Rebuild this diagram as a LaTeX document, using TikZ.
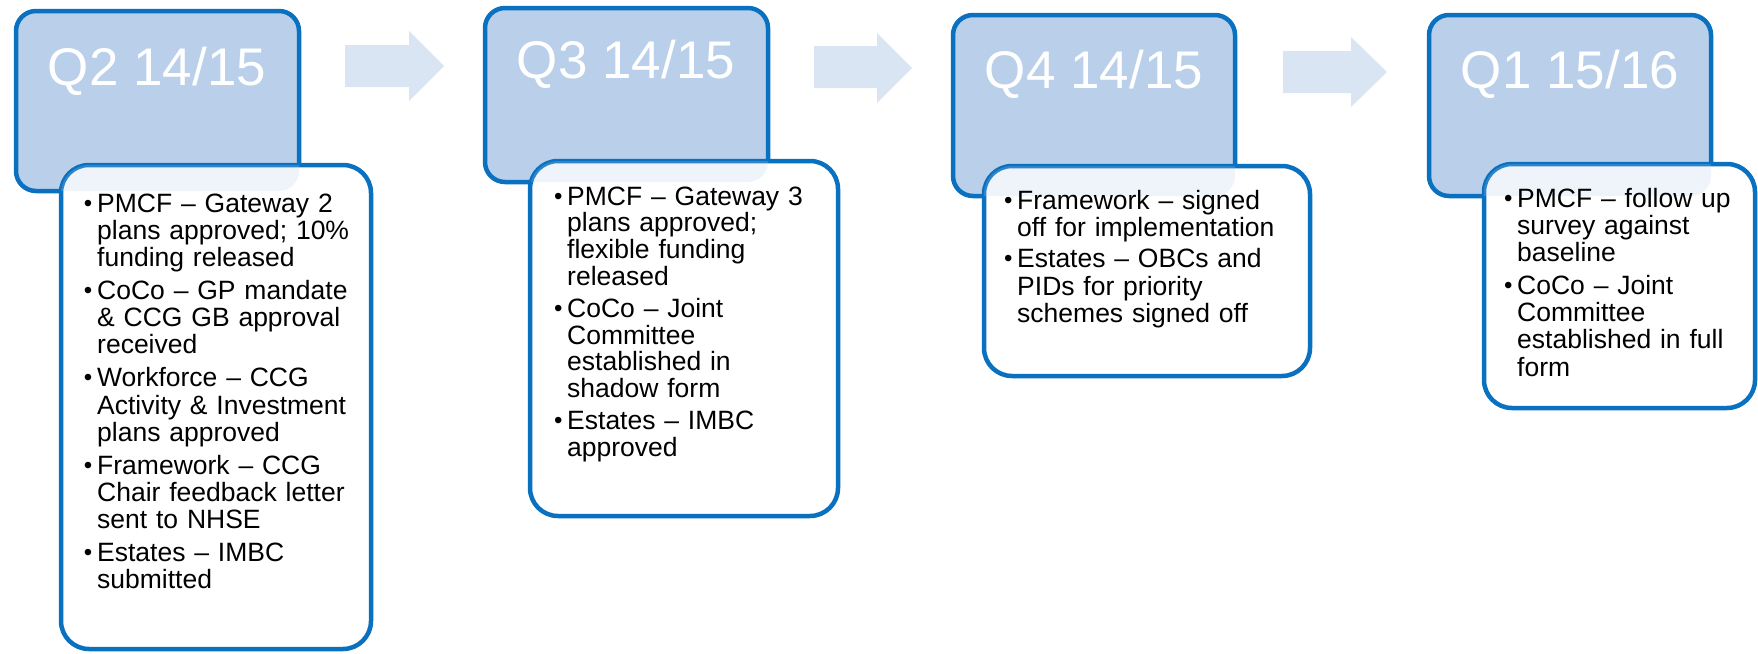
\documentclass[tikz,border=0pt]{standalone}
\usepackage{fontspec}
\setmainfont{Liberation Sans}
\definecolor{frame}{RGB}{10,112,192}
\definecolor{hdrfill}{RGB}{185,207,234}
\definecolor{arrowfill}{RGB}{218,229,243}
% hanging bullet set to the left of the current line
\newcommand\bul{\leavevmode\llap{{\fontsize{24pt}{24pt}\selectfont\raisebox{1pt}{•}}\hspace{4.8pt}}}
\newcommand\itemgap{\\[5.8pt]}
\tikzset{
  hdr/.style={draw=frame, line width=4.5pt, fill=hdrfill, rounded corners=20pt, inner sep=0pt, outer sep=0pt},
  bodybox/.style={draw=frame, line width=4.5pt, fill=white, rounded corners=28pt, inner sep=0pt, outer sep=0pt},
  ttl/.style={text=white, font=\fontsize{53pt}{60pt}\selectfont, inner sep=0pt, anchor=base},
  txt/.style={text=black, font=\fontsize{26.5pt}{27.2pt}\selectfont, align=left, text width=300pt, inner sep=0pt, anchor=base west},
  txttight/.style={txt, font=\fontsize{26.5pt}{26.8pt}\selectfont},
  flow/.style={fill=arrowfill},
  tint/.style={fill=hdrfill, fill opacity=0.22, rounded corners=20pt}
}
\begin{document}
\begin{tikzpicture}[x=1pt,y=-1pt]
\useasboundingbox (0,0) rectangle (1758,653);

% progression arrows between quarters
\fill[flow] (345,45) -- (409,45) -- (409,31) -- (444,66) -- (409,101) -- (409,87) -- (345,87) -- cycle;
\fill[flow] (814,46) -- (877,46) -- (877,33) -- (912,68) -- (877,103) -- (877,88) -- (814,88) -- cycle;
\fill[flow] (1283,51) -- (1351,51) -- (1351,37) -- (1387,72) -- (1351,107) -- (1351,93) -- (1283,93) -- cycle;

% ---- Q2 14/15
\node[hdr, minimum width=283pt, minimum height=180pt] (h1) at (157.5,101) {};
\node[ttl] (q1) at (157,85) {Q2 14/15};
\node[bodybox, minimum width=310pt, minimum height=484pt] (b1) at (216,407) {};
\begin{scope}
  \clip[rounded corners=28pt] (b1.north west) rectangle (b1.south east);
  \fill[tint] (h1.north west) rectangle (h1.south east);
\end{scope}
\node[txt] (t1) at (97,212) {\bul PMCF – Gateway 2\\plans approved; 10\%\\funding released\itemgap
\bul CoCo – GP mandate\\\& CCG GB approval\\received\itemgap
\bul Workforce – CCG\\Activity \& Investment\\plans approved\itemgap
\bul Framework – CCG\\Chair feedback letter\\sent to NHSE\itemgap
\bul Estates – IMBC\\submitted};

% ---- Q3 14/15
\node[hdr, minimum width=283pt, minimum height=174pt] (h2) at (626.5,95) {};
\node[ttl] (q2) at (626,78) {Q3 14/15};
\node[bodybox, minimum width=308pt, minimum height=355pt] (b2) at (684,338.5) {};
\begin{scope}
  \clip[rounded corners=28pt] (b2.north west) rectangle (b2.south east);
  \fill[tint] (h2.north west) rectangle (h2.south east);
\end{scope}
\node[txttight] (t2) at (567,205) {\bul PMCF – Gateway 3\\plans approved;\\flexible funding\\released\\[5pt]
\bul CoCo – Joint\\Committee\\established in\\shadow form\\[5pt]
\bul Estates – IMBC\\approved};

% ---- Q4 14/15
\node[hdr, minimum width=282pt, minimum height=181pt] (h3) at (1094,105.5) {};
\node[ttl] (q3) at (1094,88) {Q4 14/15};
\node[bodybox, minimum width=326pt, minimum height=210pt] (b3) at (1147,271) {};
\begin{scope}
  \clip[rounded corners=28pt] (b3.north west) rectangle (b3.south east);
  \fill[tint] (h3.north west) rectangle (h3.south east);
\end{scope}
\node[txt] (t3) at (1017,209) {\bul Framework – signed\\off for implementation\\[4.5pt]
\bul Estates – OBCs and\\PIDs for priority\\schemes signed off};

% ---- Q1 15/16
\node[hdr, minimum width=282pt, minimum height=181pt] (h4) at (1570,105.5) {};
\node[ttl] (q4) at (1570,88) {Q1 15/16};
\node[bodybox, minimum width=271pt, minimum height=244pt] (b4) at (1619.5,286) {};
\begin{scope}
  \clip[rounded corners=28pt] (b4.north west) rectangle (b4.south east);
  \fill[tint] (h4.north west) rectangle (h4.south east);
\end{scope}
\node[txt] (t4) at (1517,207) {\bul PMCF – follow up\\survey against\\baseline\itemgap
\bul CoCo – Joint\\Committee\\established in full\\form};
\end{tikzpicture}
\end{document}
